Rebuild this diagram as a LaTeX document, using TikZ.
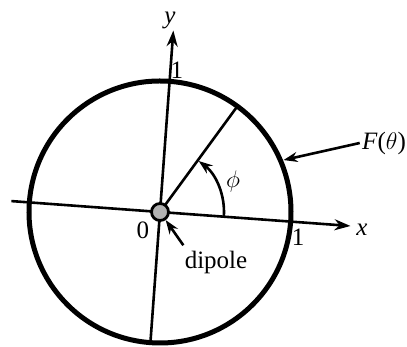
\documentclass[tikz,border=0pt]{standalone}
\usepackage{fontspec}
\setmainfont{Liberation Serif}
\usetikzlibrary{arrows.meta,positioning}

\begin{document}
\begin{tikzpicture}[x=0.5pt,y=0.5pt,
  axis/.style={line width=1.3pt,-{Stealth[length=8pt,width=5.5pt]}},
  rim/.style={line width=2.5pt},
  radial/.style={line width=1.3pt},
  lbl/.style={font=\fontsize{12.5}{14}\selectfont,inner sep=1pt},
  ptr/.style={line width=1.3pt,-{Stealth[length=7pt,width=5pt]}},
  src/.style={circle,draw,line width=1.4pt,fill=gray!60,minimum size=8.5pt,inner sep=0pt}
]
  \useasboundingbox (-160,-135) rectangle (247,212);
  \begin{scope}[rotate=-4.2]
    \coordinate (xl)  at (-149,0);
    \coordinate (xr)  at (191,0);
    \coordinate (yb)  at (0,-129);
    \coordinate (yt)  at (0,182);
    \coordinate (tip) at (58:131);
    \coordinate (Fpt) at (27:134);
    \draw[rim] (0,0) circle (131);
    \draw[axis] (xl) -- (xr);
    \draw[axis] (yb) -- (yt);
    \draw[radial] (0,0) -- (tip);
    \draw[ptr] (64,0) arc (0:57:64);
    \node[src] (O) at (0,0) {};
  \end{scope}
  \node[lbl] (ylab)   at (10,192)  {\textit{y}};
  \node[lbl] (xlab)   at (202,-18) {\textit{x}};
  \node[lbl] (oney)   at (17,142)  {1};
  \node[lbl] (onex)   at (138,-25) {1};
  \node[lbl] (zero)   at (-17,-18) {0};
  \node[lbl] (phi)    at (73,30)   {$\phi$};
  \node[lbl] (diplab) at (56,-50)  {dipole};
  \node[lbl] (Flab)   at (224,69)  {\textit{F}($\theta$)};
  \draw[ptr] ([shift={(1,3)}]diplab.north west) -- (O);
  \draw[ptr] (Flab.west) -- (Fpt);
\end{tikzpicture}
\end{document}
